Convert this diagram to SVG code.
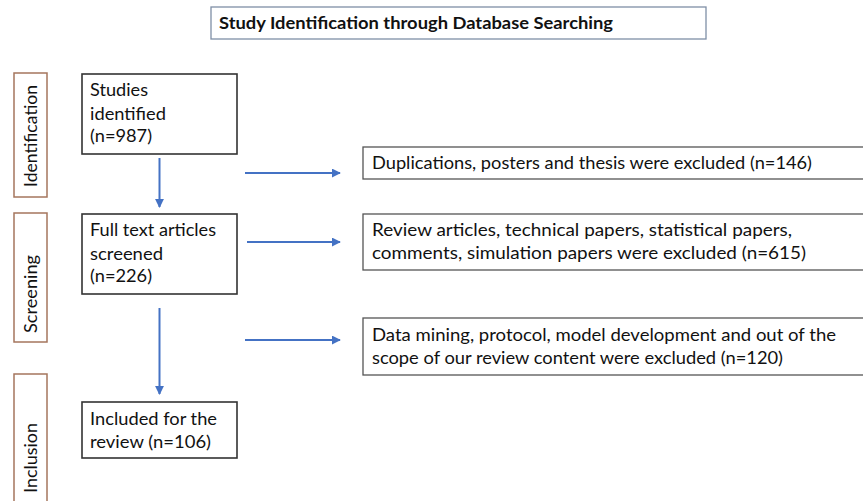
<svg xmlns="http://www.w3.org/2000/svg" width="863" height="501" viewBox="0 0 863 501">
  <defs>
    <style>
      text { font-family: Lato, "Open Sans", "Liberation Sans", sans-serif; font-size: 18px; fill: #111; }
      .title { font-weight: bold; font-size: 17.5px; }
      .stage { fill: #fff; stroke: #A5765D; stroke-width: 1.5; }
      .node { fill: #fff; stroke: #333; stroke-width: 1.6; }
      .excl { fill: #fff; stroke: #555; stroke-width: 1.3; }
      .head { fill: #fff; stroke: #7F8FA6; stroke-width: 1.3; }
      .conn { stroke: #4472C4; stroke-width: 2; fill: none; marker-end: url(#arrow); }
    </style>
    <marker id="arrow" viewBox="0 0 10 10" refX="9" refY="5" markerWidth="4.5" markerHeight="4.5" orient="auto" markerUnits="strokeWidth">
      <path d="M0,0 L10,5 L0,10 z" fill="#4472C4"/>
    </marker>
  </defs>
  <rect width="863" height="501" fill="#fff"/>

  <!-- heading -->
  <g id="heading">
    <rect class="head" x="211" y="7" width="495" height="32"/>
    <text class="title" x="219" y="29" textLength="394" lengthAdjust="spacingAndGlyphs">Study Identification through Database Searching</text>
  </g>

  <!-- stage labels -->
  <g id="stage-identification">
    <rect class="stage" x="14" y="73" width="33" height="124"/>
    <text transform="translate(37,187) rotate(-90)" textLength="102" lengthAdjust="spacingAndGlyphs">Identification</text>
  </g>
  <g id="stage-screening">
    <rect class="stage" x="14" y="213" width="33" height="129"/>
    <text transform="translate(37,333) rotate(-90)" textLength="78" lengthAdjust="spacingAndGlyphs">Screening</text>
  </g>
  <g id="stage-inclusion">
    <rect class="stage" x="14" y="374" width="33" height="140"/>
    <text transform="translate(37,493) rotate(-90)" textLength="70" lengthAdjust="spacingAndGlyphs">Inclusion</text>
  </g>

  <!-- main flow -->
  <g id="identified">
    <rect class="node" x="82" y="74" width="155" height="80"/>
    <text x="90" y="96" textLength="58" lengthAdjust="spacingAndGlyphs">Studies</text>
    <text x="90" y="120" textLength="76" lengthAdjust="spacingAndGlyphs">identified</text>
    <text x="90" y="142" textLength="62" lengthAdjust="spacingAndGlyphs">(n=987)</text>
  </g>
  <g id="screened">
    <rect class="node" x="82" y="214" width="155" height="80"/>
    <text x="90" y="236" textLength="126" lengthAdjust="spacingAndGlyphs">Full text articles</text>
    <text x="90" y="260" textLength="73" lengthAdjust="spacingAndGlyphs">screened</text>
    <text x="90" y="282" textLength="62" lengthAdjust="spacingAndGlyphs">(n=226)</text>
  </g>
  <g id="included">
    <rect class="node" x="82" y="402" width="155" height="56"/>
    <text x="90" y="425" textLength="127" lengthAdjust="spacingAndGlyphs">Included for the</text>
    <text x="90" y="448" textLength="121" lengthAdjust="spacingAndGlyphs">review (n=106)</text>
  </g>

  <!-- exclusions -->
  <g id="excluded-duplicates">
    <rect class="excl" x="363" y="147" width="520" height="32"/>
    <text x="372" y="169" textLength="440" lengthAdjust="spacingAndGlyphs">Duplications, posters and thesis were excluded (n=146)</text>
  </g>
  <g id="excluded-types">
    <rect class="excl" x="363" y="214" width="520" height="56"/>
    <text x="372" y="236" textLength="420" lengthAdjust="spacingAndGlyphs">Review articles, technical papers, statistical papers,</text>
    <text x="372" y="259" textLength="434" lengthAdjust="spacingAndGlyphs">comments, simulation papers were excluded (n=615)</text>
  </g>
  <g id="excluded-scope">
    <rect class="excl" x="363" y="318" width="520" height="57"/>
    <text x="372" y="341" textLength="464" lengthAdjust="spacingAndGlyphs">Data mining, protocol, model development and out of the</text>
    <text x="372" y="364" textLength="411" lengthAdjust="spacingAndGlyphs">scope of our review content were excluded (n=120)</text>
  </g>

  <!-- connectors -->
  <g id="connectors">
    <line class="conn" x1="159.5" y1="158" x2="159.5" y2="207"/>
    <line class="conn" x1="159.5" y1="308" x2="159.5" y2="394"/>
    <line class="conn" x1="245" y1="173" x2="340" y2="173"/>
    <line class="conn" x1="247" y1="242" x2="340" y2="242"/>
    <line class="conn" x1="245" y1="340" x2="340" y2="340"/>
  </g>
</svg>
